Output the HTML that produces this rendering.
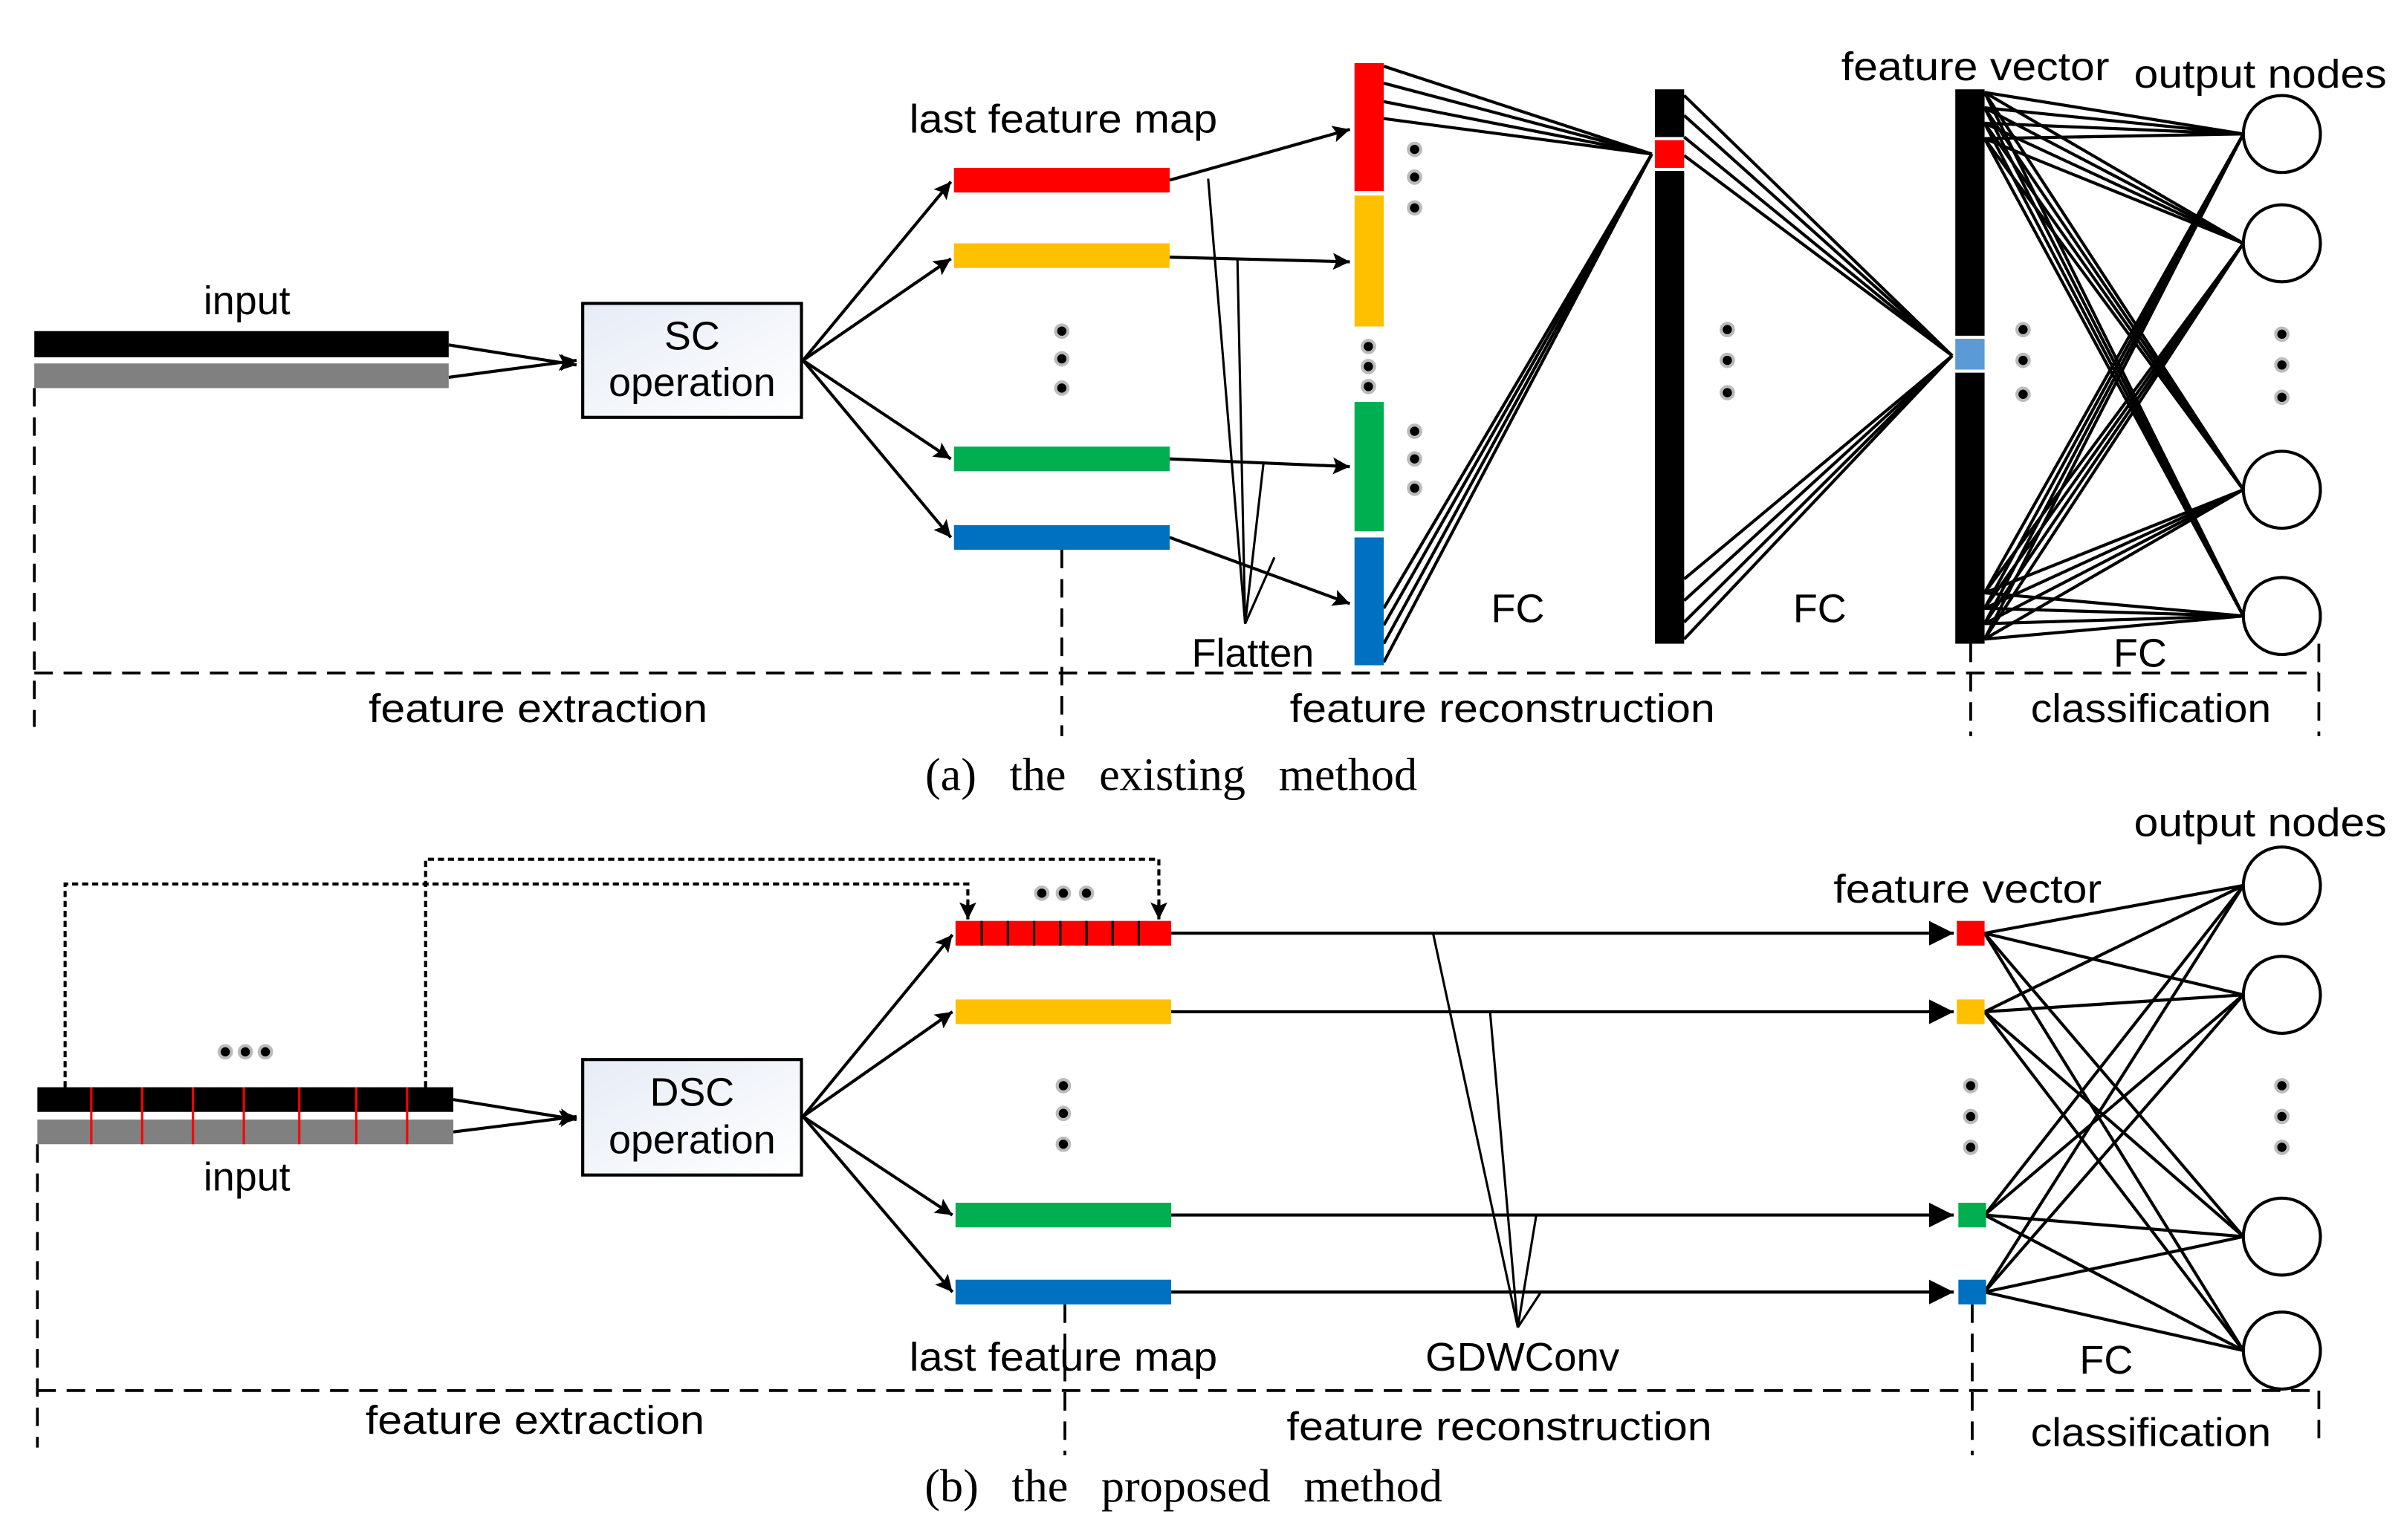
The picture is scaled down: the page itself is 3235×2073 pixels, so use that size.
<!DOCTYPE html>
<html><head><meta charset="utf-8"><style>
html,body{margin:0;padding:0;background:#fff;}
svg{display:block;}
text{font-family:"Liberation Sans Narrow","Liberation Sans",sans-serif;fill:#000;}
.cap{font-family:"Liberation Serif",serif;}
</style></head><body>
<svg width="3235" height="2073" viewBox="0 0 1560 1000" xmlns="http://www.w3.org/2000/svg">
<defs>
<marker id="ar" viewBox="0 0 10 10" refX="10" refY="5" markerWidth="12" markerHeight="11" markerUnits="userSpaceOnUse" orient="auto"><path d="M0,0 L10,5 L0,10 L2,5 z" fill="#000"/></marker>
<marker id="arb" viewBox="0 0 10 10" refX="10" refY="5" markerWidth="16" markerHeight="16" markerUnits="userSpaceOnUse" orient="auto"><path d="M0,0 L10,5 L0,10 z" fill="#000"/></marker>
<linearGradient id="bx" x1="0" y1="0" x2="1" y2="1"><stop offset="0" stop-color="#e6ecf6"/><stop offset="1" stop-color="#fff"/></linearGradient>
</defs>
<g stroke="#000" stroke-width="2" fill="none">
<line x1="291" y1="224" x2="374" y2="237" marker-end="url(#ar)"/>
<line x1="291" y1="245" x2="374" y2="234" marker-end="url(#ar)"/>
<line x1="521" y1="234" x2="617" y2="118" marker-end="url(#ar)"/>
<line x1="521" y1="234" x2="617" y2="168" marker-end="url(#ar)"/>
<line x1="521" y1="234" x2="617" y2="298" marker-end="url(#ar)"/>
<line x1="521" y1="234" x2="617" y2="349" marker-end="url(#ar)"/>
<line x1="759" y1="117" x2="876" y2="84" marker-end="url(#ar)"/>
<line x1="759" y1="167" x2="876" y2="170" marker-end="url(#ar)"/>
<line x1="759" y1="298" x2="876" y2="303" marker-end="url(#ar)"/>
<line x1="759" y1="349" x2="876" y2="392" marker-end="url(#ar)"/>
<g stroke-width="1.5">
<line x1="808" y1="405" x2="784" y2="116"/>
<line x1="808" y1="405" x2="803" y2="168"/>
<line x1="808" y1="405" x2="820" y2="300"/>
<line x1="808" y1="405" x2="827" y2="362"/>
</g>
<line x1="898" y1="43" x2="1072" y2="100"/><line x1="898" y1="54" x2="1072" y2="100"/>
<line x1="898" y1="66" x2="1072" y2="100"/><line x1="898" y1="77" x2="1072" y2="100"/>
<line x1="898" y1="395" x2="1072" y2="100"/><line x1="898" y1="406" x2="1072" y2="100"/>
<line x1="898" y1="418" x2="1072" y2="100"/><line x1="898" y1="430" x2="1072" y2="100"/>
<line x1="1093" y1="62" x2="1267" y2="231"/><line x1="1093" y1="75" x2="1267" y2="231"/>
<line x1="1093" y1="89" x2="1267" y2="231"/><line x1="1093" y1="101" x2="1267" y2="231"/>
<line x1="1093" y1="376" x2="1267" y2="231"/><line x1="1093" y1="390" x2="1267" y2="231"/>
<line x1="1093" y1="404" x2="1267" y2="231"/><line x1="1093" y1="415" x2="1267" y2="231"/>
<line x1="1288" y1="60" x2="1456" y2="87"/><line x1="1288" y1="70" x2="1456" y2="87"/><line x1="1288" y1="80" x2="1456" y2="87"/><line x1="1288" y1="90" x2="1456" y2="87"/>
<line x1="1288" y1="60" x2="1456" y2="158"/><line x1="1288" y1="70" x2="1456" y2="158"/><line x1="1288" y1="80" x2="1456" y2="158"/><line x1="1288" y1="90" x2="1456" y2="158"/>
<line x1="1288" y1="60" x2="1456" y2="318"/><line x1="1288" y1="70" x2="1456" y2="318"/><line x1="1288" y1="80" x2="1456" y2="318"/><line x1="1288" y1="90" x2="1456" y2="318"/>
<line x1="1288" y1="60" x2="1456" y2="400"/><line x1="1288" y1="70" x2="1456" y2="400"/><line x1="1288" y1="80" x2="1456" y2="400"/><line x1="1288" y1="90" x2="1456" y2="400"/>
<line x1="1288" y1="385" x2="1456" y2="87"/><line x1="1288" y1="395" x2="1456" y2="87"/><line x1="1288" y1="405" x2="1456" y2="87"/><line x1="1288" y1="415" x2="1456" y2="87"/>
<line x1="1288" y1="385" x2="1456" y2="158"/><line x1="1288" y1="395" x2="1456" y2="158"/><line x1="1288" y1="405" x2="1456" y2="158"/><line x1="1288" y1="415" x2="1456" y2="158"/>
<line x1="1288" y1="385" x2="1456" y2="318"/><line x1="1288" y1="395" x2="1456" y2="318"/><line x1="1288" y1="405" x2="1456" y2="318"/><line x1="1288" y1="415" x2="1456" y2="318"/>
<line x1="1288" y1="385" x2="1456" y2="400"/><line x1="1288" y1="395" x2="1456" y2="400"/><line x1="1288" y1="405" x2="1456" y2="400"/><line x1="1288" y1="415" x2="1456" y2="400"/>
<g stroke-dasharray="12,7" stroke-width="1.8">
<line x1="22" y1="437" x2="1505" y2="437"/>
<line x1="22" y1="252" x2="22" y2="472"/>
<line x1="689" y1="357" x2="689" y2="478"/>
<line x1="1279" y1="418" x2="1279" y2="478"/>
<line x1="1505" y1="418" x2="1505" y2="478"/>
</g>
<g stroke-dasharray="4,2.5" stroke-width="2">
<polyline points="42,706 42,574 628,574 628,590"/>
<polyline points="276,706 276,558 752,558 752,590"/>
</g>
<line x1="628" y1="586" x2="628" y2="597" marker-end="url(#ar)"/>
<line x1="752" y1="586" x2="752" y2="597" marker-end="url(#ar)"/>
<line x1="294" y1="714" x2="374" y2="727" marker-end="url(#ar)"/>
<line x1="294" y1="735" x2="374" y2="725" marker-end="url(#ar)"/>
<line x1="521" y1="725" x2="618" y2="607" marker-end="url(#ar)"/>
<line x1="521" y1="725" x2="618" y2="657" marker-end="url(#ar)"/>
<line x1="521" y1="725" x2="618" y2="789" marker-end="url(#ar)"/>
<line x1="521" y1="725" x2="618" y2="839" marker-end="url(#ar)"/>
<line x1="760" y1="606" x2="1268" y2="606" marker-end="url(#arb)"/>
<line x1="760" y1="657" x2="1268" y2="657" marker-end="url(#arb)"/>
<line x1="760" y1="789" x2="1268" y2="789" marker-end="url(#arb)"/>
<line x1="760" y1="839" x2="1268" y2="839" marker-end="url(#arb)"/>
<g stroke-width="1.5">
<line x1="985" y1="862" x2="930" y2="606"/>
<line x1="985" y1="862" x2="967" y2="657"/>
<line x1="985" y1="862" x2="997" y2="789"/>
<line x1="985" y1="862" x2="1000" y2="839"/>
</g>
<line x1="1288" y1="606" x2="1456" y2="575"/><line x1="1288" y1="606" x2="1456" y2="646"/><line x1="1288" y1="606" x2="1456" y2="803"/><line x1="1288" y1="606" x2="1456" y2="877"/>
<line x1="1288" y1="657" x2="1456" y2="575"/><line x1="1288" y1="657" x2="1456" y2="646"/><line x1="1288" y1="657" x2="1456" y2="803"/><line x1="1288" y1="657" x2="1456" y2="877"/>
<line x1="1288" y1="789" x2="1456" y2="575"/><line x1="1288" y1="789" x2="1456" y2="646"/><line x1="1288" y1="789" x2="1456" y2="803"/><line x1="1288" y1="789" x2="1456" y2="877"/>
<line x1="1288" y1="839" x2="1456" y2="575"/><line x1="1288" y1="839" x2="1456" y2="646"/><line x1="1288" y1="839" x2="1456" y2="803"/><line x1="1288" y1="839" x2="1456" y2="877"/>
<g stroke-dasharray="12,7" stroke-width="1.8">
<line x1="24" y1="903" x2="1505" y2="903"/>
<line x1="24" y1="743" x2="24" y2="940"/>
<line x1="691" y1="847" x2="691" y2="945"/>
<line x1="1280" y1="847" x2="1280" y2="945"/>
<line x1="1505" y1="903" x2="1505" y2="935"/>
</g>
</g>

<rect x="22" y="215" width="269" height="17" fill="#000"/>
<rect x="22" y="236" width="269" height="16" fill="#808080"/>
<rect x="378" y="197" width="142" height="74" fill="url(#bx)" stroke="#000" stroke-width="2"/>
<rect x="619" y="109" width="140" height="16" fill="#ff0000"/>
<rect x="619" y="158" width="140" height="16" fill="#ffc000"/>
<rect x="619" y="290" width="140" height="16" fill="#00b050"/>
<rect x="619" y="341" width="140" height="16" fill="#0070c0"/>
<rect x="879" y="41" width="19" height="83" fill="#ff0000"/>
<rect x="879" y="127" width="19" height="85" fill="#ffc000"/>
<rect x="879" y="261" width="19" height="84" fill="#00b050"/>
<rect x="879" y="349" width="19" height="83" fill="#0070c0"/>
<rect x="1074" y="58" width="19" height="31" fill="#000"/>
<rect x="1074" y="91" width="19" height="18" fill="#ff0000"/>
<rect x="1074" y="111" width="19" height="307" fill="#000"/>
<rect x="1269" y="58" width="19" height="160" fill="#000"/>
<rect x="1269" y="220" width="19" height="20" fill="#5b9bd5"/>
<rect x="1269" y="242" width="19" height="176" fill="#000"/>
<g fill="#fff" stroke="#000" stroke-width="2">
<ellipse cx="1481" cy="87" rx="25" ry="25"/>
<ellipse cx="1481" cy="158" rx="25" ry="25"/>
<ellipse cx="1481" cy="318" rx="25" ry="25"/>
<ellipse cx="1481" cy="400" rx="25" ry="25"/>
<ellipse cx="1481" cy="575" rx="25" ry="25"/>
<ellipse cx="1481" cy="646" rx="25" ry="25"/>
<ellipse cx="1481" cy="803" rx="25" ry="25"/>
<ellipse cx="1481" cy="877" rx="25" ry="25"/>
</g>
<g fill="#000" stroke="#bbb" stroke-width="2">
<circle cx="689" cy="215" r="4"/><circle cx="689" cy="233" r="4"/><circle cx="689" cy="252" r="4"/>
<circle cx="918" cy="97" r="4"/><circle cx="918" cy="115" r="4"/><circle cx="918" cy="135" r="4"/>
<circle cx="888" cy="225" r="4"/><circle cx="888" cy="238" r="4"/><circle cx="888" cy="251" r="4"/>
<circle cx="918" cy="280" r="4"/><circle cx="918" cy="298" r="4"/><circle cx="918" cy="317" r="4"/>
<circle cx="1121" cy="214" r="4"/><circle cx="1121" cy="234" r="4"/><circle cx="1121" cy="255" r="4"/>
<circle cx="1313" cy="214" r="4"/><circle cx="1313" cy="234" r="4"/><circle cx="1313" cy="256" r="4"/>
<circle cx="1481" cy="217" r="4"/><circle cx="1481" cy="237" r="4"/><circle cx="1481" cy="258" r="4"/>
<circle cx="146" cy="683" r="4"/><circle cx="159" cy="683" r="4"/><circle cx="172" cy="683" r="4"/>
<circle cx="676" cy="580" r="4"/><circle cx="690" cy="580" r="4"/><circle cx="705" cy="580" r="4"/>
<circle cx="690" cy="705" r="4"/><circle cx="690" cy="723" r="4"/><circle cx="690" cy="743" r="4"/>
<circle cx="1279" cy="705" r="4"/><circle cx="1279" cy="725" r="4"/><circle cx="1279" cy="745" r="4"/>
<circle cx="1481" cy="705" r="4"/><circle cx="1481" cy="725" r="4"/><circle cx="1481" cy="745" r="4"/>
</g>

<rect x="24" y="706" width="270" height="16" fill="#000"/>
<rect x="24" y="727" width="270" height="16" fill="#808080"/>
<g stroke="#ff0000" stroke-width="1.5">
<line x1="59" y1="706" x2="59" y2="743"/><line x1="92" y1="706" x2="92" y2="743"/>
<line x1="125" y1="706" x2="125" y2="743"/><line x1="158" y1="706" x2="158" y2="743"/>
<line x1="194" y1="706" x2="194" y2="743"/><line x1="231" y1="706" x2="231" y2="743"/>
<line x1="264" y1="706" x2="264" y2="743"/>
</g>
<rect x="378" y="688" width="142" height="75" fill="url(#bx)" stroke="#000" stroke-width="2"/>
<rect x="620" y="598" width="140" height="16" fill="#ff0000"/>
<g stroke="#000" stroke-width="1.5">
<line x1="637" y1="598" x2="637" y2="614"/><line x1="654" y1="598" x2="654" y2="614"/>
<line x1="671" y1="598" x2="671" y2="614"/><line x1="688" y1="598" x2="688" y2="614"/>
<line x1="705" y1="598" x2="705" y2="614"/><line x1="722" y1="598" x2="722" y2="614"/>
<line x1="739" y1="598" x2="739" y2="614"/>
</g>
<rect x="620" y="649" width="140" height="16" fill="#ffc000"/>
<rect x="620" y="781" width="140" height="16" fill="#00b050"/>
<rect x="620" y="831" width="140" height="16" fill="#0070c0"/>
<rect x="1270" y="598" width="18" height="16" fill="#ff0000"/>
<rect x="1270" y="649" width="18" height="16" fill="#ffc000"/>
<rect x="1271" y="781" width="18" height="16" fill="#00b050"/>
<rect x="1271" y="831" width="18" height="16" fill="#0070c0"/>

<g font-size="26" text-anchor="middle">
<text x="160" y="204">input</text>
<text x="449" y="227">SC</text>
<text x="449" y="257">operation</text>
<text x="690" y="86" textLength="200" lengthAdjust="spacingAndGlyphs">last feature map</text>
<text x="813" y="433">Flatten</text>
<text x="985" y="404">FC</text>
<text x="1181" y="404">FC</text>
<text x="1389" y="433">FC</text>
<text x="1282" y="52" textLength="174" lengthAdjust="spacingAndGlyphs">feature vector</text>
<text x="1467" y="57" textLength="164" lengthAdjust="spacingAndGlyphs">output nodes</text>
<text x="349" y="469" textLength="220" lengthAdjust="spacingAndGlyphs">feature extraction</text>
<text x="975" y="469" textLength="276" lengthAdjust="spacingAndGlyphs">feature reconstruction</text>
<text x="1396" y="469" textLength="156" lengthAdjust="spacingAndGlyphs">classification</text>
<text x="160" y="773">input</text>
<text x="449" y="718">DSC</text>
<text x="449" y="749">operation</text>
<text x="690" y="890" textLength="200" lengthAdjust="spacingAndGlyphs">last feature map</text>
<text x="988" y="890" textLength="126" lengthAdjust="spacingAndGlyphs">GDWConv</text>
<text x="1367" y="892">FC</text>
<text x="1277" y="586" textLength="174" lengthAdjust="spacingAndGlyphs">feature vector</text>
<text x="1467" y="543" textLength="164" lengthAdjust="spacingAndGlyphs">output nodes</text>
<text x="347" y="931" textLength="220" lengthAdjust="spacingAndGlyphs">feature extraction</text>
<text x="973" y="935" textLength="276" lengthAdjust="spacingAndGlyphs">feature reconstruction</text>
<text x="1396" y="939" textLength="156" lengthAdjust="spacingAndGlyphs">classification</text>
</g>
<g font-size="30" text-anchor="middle">
<text class="cap" x="760" y="513" word-spacing="14">(a) the existing method</text>
<text class="cap" x="768" y="975" word-spacing="14">(b) the proposed method</text>
</g>
</svg>
</body></html>
